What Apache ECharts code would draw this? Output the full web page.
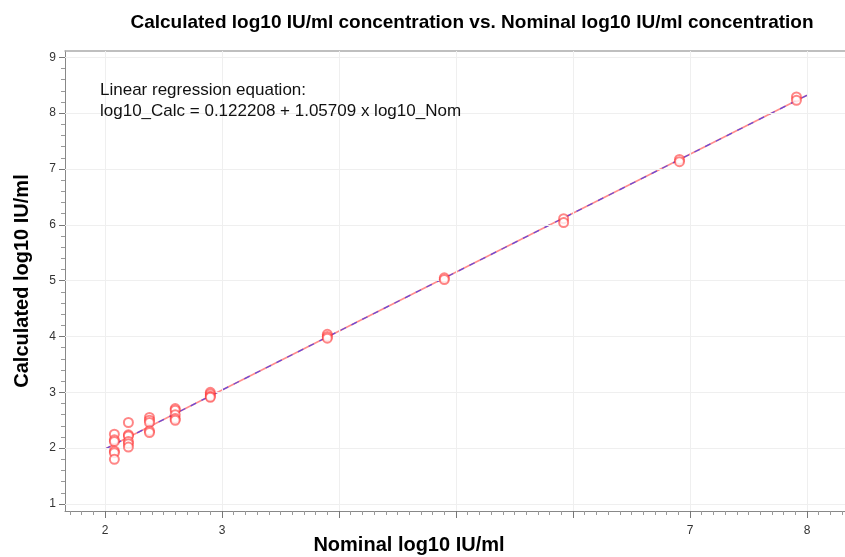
<!DOCTYPE html>
<html><head><meta charset="utf-8">
<script src="https://cdn.jsdelivr.net/npm/echarts@6/dist/echarts.min.js"></script>
<style>html,body{margin:0;padding:0;background:#fff}#c{width:845px;height:557px}</style>
</head><body><div id="c"></div>
<script>
// Data
const nominal = [2.08, 2.08, 2.08, 2.08, 2.08, 2.08,
  2.2, 2.2, 2.2, 2.2, 2.2, 2.2,
  2.38, 2.38, 2.38, 2.38, 2.38,
  2.6, 2.6, 2.6, 2.6, 2.6,
  2.9, 2.9, 2.9, 2.9,
  3.9, 3.9, 3.9,
  4.9, 4.9,
  5.92, 5.92,
  6.91, 6.91,
  7.91, 7.91];
const calculated = [2.25, 2.15, 2.12, 1.95, 1.92, 1.80,
  2.46, 2.24, 2.22, 2.12, 2.08, 2.02,
  2.55, 2.50, 2.46, 2.31, 2.28,
  2.71, 2.68, 2.60, 2.53, 2.50,
  3.00, 2.97, 2.93, 2.91,
  4.04, 4.00, 3.97,
  5.05, 5.02,
  6.11, 6.04,
  7.17, 7.13,
  8.29, 8.23];
const fitX = [2, 8];
const fitY = [1.985, 8.32];
const xMajor = [2, 3, 4, 5, 6, 7, 8];
const xLabels = [2, 3, 7, 8];
const yMajor = [1, 2, 3, 4, 5, 6, 7, 8, 9];
const xMinor = [];
for (let i = 17; i <= 83; i++) { if (i % 10 !== 0) xMinor.push(i / 10); }
const yMinor = [];
for (let i = 5; i <= 45; i++) { if (i % 5 !== 0) yMinor.push(i / 5); }

const X_MIN = 1.658, X_MAX = 8.325, Y_MIN = 0.875, Y_MAX = 9.113;
const chart = echarts.init(document.getElementById('c'));
const gridLine = {color: '#efefef', width: 1, type: 'solid'};
const option = {
  animation: false,
  title: {
    text: 'Calculated log10 IU/ml concentration vs. Nominal log10 IU/ml concentration',
    left: 467, top: 8, textAlign: 'center',
    textStyle: {fontFamily: 'Liberation Sans', fontWeight: 'bold', fontSize: 19, color: '#000'}
  },
  grid: {left: 65, right: 0, top: 51, bottom: 46, outerBoundsMode: 'none', containLabel: false},
  xAxis: [
    {type: 'value', min: X_MIN, max: X_MAX, position: 'bottom',
     axisLine: {show: true, lineStyle: {color: '#888', width: 1}},
     axisTick: {show: true, customValues: xMajor, length: 7, lineStyle: {color: '#777'}},
     axisLabel: {show: true, customValues: xLabels, margin: 14, fontFamily: 'Liberation Sans', fontSize: 12, color: '#333'},
     splitLine: {show: false},
     name: 'Nominal log10 IU/ml', nameLocation: 'middle', nameGap: 24, nameMoveOverlap: false,
     nameTextStyle: {fontFamily: 'Liberation Sans', fontWeight: 'bold', fontSize: 20, color: '#000', padding: [0, 92, 0, 0]}
    },
    {type: 'value', min: X_MIN, max: X_MAX, position: 'bottom',
     axisLine: {show: false},
     axisTick: {show: true, customValues: xMinor, length: 4, lineStyle: {color: '#999'}},
     axisLabel: {show: false}, splitLine: {show: false}},
    {type: 'value', min: X_MIN, max: X_MAX, position: 'top',
     axisLine: {show: true, lineStyle: {color: '#aaa', width: 1.5}},
     axisTick: {show: false}, axisLabel: {show: false}, splitLine: {show: false}}
  ],
  yAxis: [
    {type: 'value', min: Y_MIN, max: Y_MAX,
     axisLine: {show: true, lineStyle: {color: '#888', width: 1}},
     axisTick: {show: true, customValues: yMajor, length: 6, lineStyle: {color: '#777'}},
     axisLabel: {show: true, customValues: yMajor, margin: 9, fontFamily: 'Liberation Sans', fontSize: 12, color: '#333'},
     splitLine: {show: false},
     name: 'Calculated log10 IU/ml', nameLocation: 'middle', nameGap: 33, nameRotate: 90, nameMoveOverlap: false,
     nameTextStyle: {fontFamily: 'Liberation Sans', fontWeight: 'bold', fontSize: 20, color: '#000'}
    },
    {type: 'value', min: Y_MIN, max: Y_MAX, position: 'left',
     axisLine: {show: false},
     axisTick: {show: true, customValues: yMinor, length: 4, lineStyle: {color: '#999'}},
     axisLabel: {show: false}, splitLine: {show: false}}
  ],
  graphic: [
    {type: 'text', left: 100, top: 80, z: 10,
     style: {text: 'Linear regression equation:\nlog10_Calc = 0.122208 + 1.05709 x log10_Nom',
       fontFamily: 'Liberation Sans', fontSize: 17, lineHeight: 21, fill: '#111'}}
  ],
  series: [
    {type: 'line', data: [], z: 0, silent: true,
     markLine: {silent: true, symbol: 'none', label: {show: false}, lineStyle: gridLine, animation: false,
       data: xMajor.map(v => ({xAxis: v})).concat(yMajor.map(v => ({yAxis: v})))}},
    {type: 'line', data: fitX.map((x, i) => [x, fitY[i]]), symbol: 'none', z: 3,
     lineStyle: {color: '#ff8c8c', width: 1.6, type: 'solid'}},
    {type: 'line', data: fitX.map((x, i) => [x, fitY[i]]), symbol: 'none', z: 4,
     lineStyle: {color: '#6a4ad8', width: 1.3, type: [6, 6]}},
    {type: 'scatter', data: nominal.map((x, i) => [x, calculated[i]]), z: 5,
     symbol: 'emptyCircle', symbolSize: 9,
     itemStyle: {color: 'rgba(255,45,45,0.72)', borderWidth: 1}}
  ]
};
chart.setOption(option);
</script></body></html>
